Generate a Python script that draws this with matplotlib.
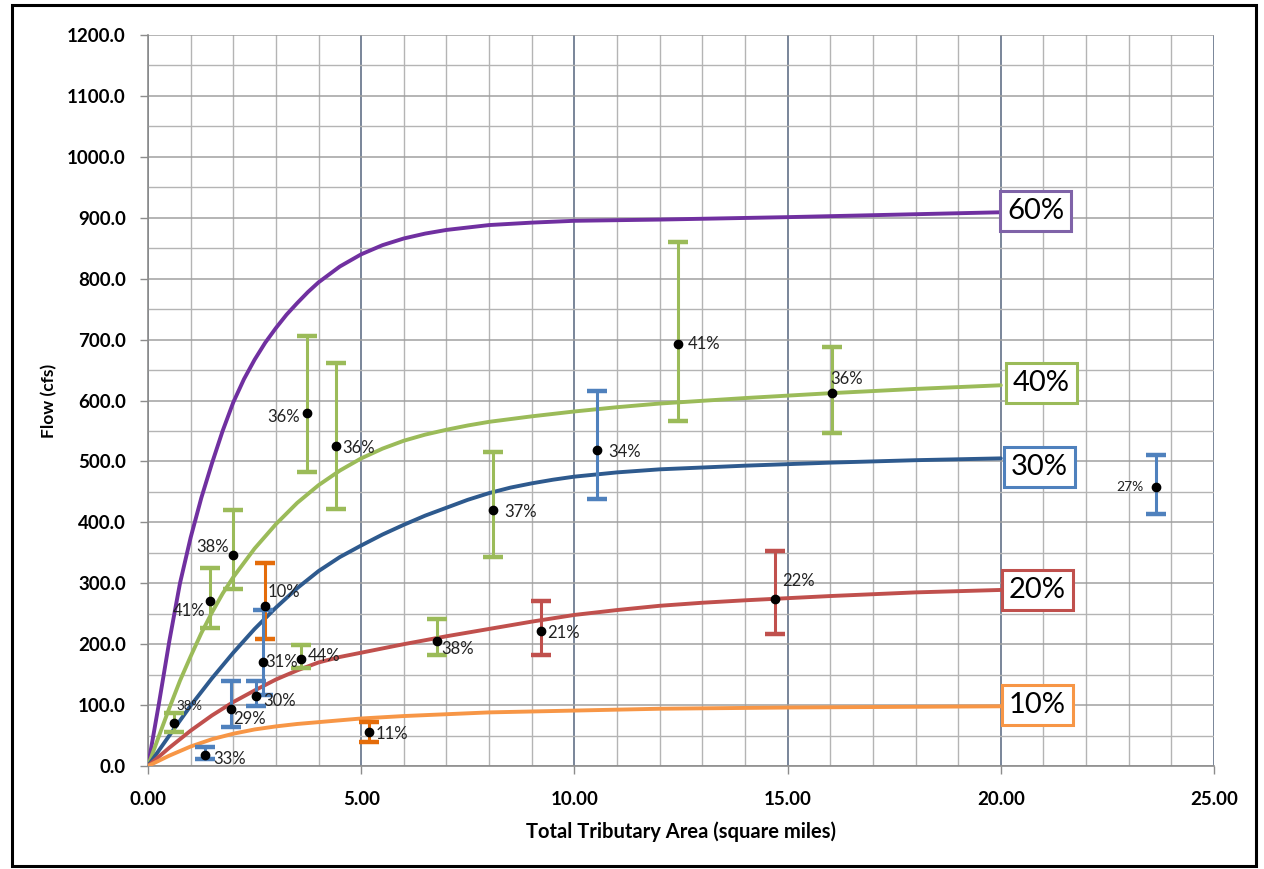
import matplotlib
matplotlib.use("Agg")
import matplotlib.pyplot as plt
from matplotlib.patches import Rectangle
from matplotlib.ticker import MultipleLocator, FormatStrFormatter

plt.rcParams['font.family'] = ['Lato', 'DejaVu Sans']

# ---- curve data ----
x60 = [0, 0.25, 0.5, 0.75, 1, 1.25, 1.5, 1.75, 2, 2.25, 2.5, 2.75, 3, 3.25, 3.5, 3.75, 4, 4.5, 5, 5.5, 6, 6.5, 7, 7.5, 8, 9, 10, 12, 15, 20]
y60 = [0, 100, 205, 300, 375, 440, 497, 550, 597, 635, 667, 695, 719, 741, 760, 778, 794, 820, 840, 855, 866, 874, 880, 884, 888, 892, 895, 897, 901, 909]

x40 = [0, 0.25, 0.5, 0.75, 1, 1.25, 1.5, 1.75, 2, 2.5, 3, 3.5, 4, 4.5, 5, 5.5, 6, 6.5, 7, 7.5, 8, 9, 10, 11, 12, 14, 16, 18, 20]
y40 = [0, 48, 95, 140, 180, 218, 252, 283, 310, 357, 397, 432, 461, 485, 505, 521, 534, 544, 552, 559, 565, 574, 582, 589, 595, 604, 612, 619, 625]

x30 = [0, 0.5, 1, 1.5, 2, 2.5, 3, 3.5, 4, 4.5, 5, 5.5, 6, 6.5, 7, 7.5, 8, 8.5, 9, 9.5, 10, 11, 12, 14, 16, 18, 20]
y30 = [0, 50, 99, 144, 186, 225, 260, 292, 320, 343, 362, 380, 396, 411, 424, 437, 448, 457, 464, 470, 475, 482, 487, 493, 498, 502, 505]

x20 = [0, 0.5, 1, 1.5, 2, 2.5, 3, 3.5, 4, 4.5, 5, 5.5, 6, 7, 8, 9, 10, 11, 12, 13, 14, 16, 18, 20]
y20 = [0, 30, 58, 83, 105, 124, 142, 157, 170, 179, 186, 193, 200, 213, 225, 237, 248, 256, 263, 268, 272, 279, 285, 289]

x10 = [0, 0.5, 1, 1.5, 2, 2.5, 3, 3.5, 4, 4.5, 5, 6, 7, 8, 10, 12, 15, 20]
y10 = [0, 17, 32, 44, 53, 60, 65, 69, 72, 75, 78, 82, 85, 88, 91, 94, 96, 98]

curve_names = ['60%', '40%', '30%', '20%', '10%']
curve_label_y = [911, 629, 491, 289, 100]

pt_x = [0.62, 1.34, 1.45, 2.00, 1.94, 2.74, 2.70, 2.53, 3.59, 5.19, 6.77, 3.72, 4.41, 8.08, 9.21, 14.70, 12.42, 16.05, 10.52, 23.63]
pt_y = [71, 18, 271, 347, 94, 263, 170, 115, 175, 56, 206, 580, 525, 421, 222, 274, 693, 613, 519, 458]
pt_lo = [56, 11, 226, 290, 64, 208, 116, 98, 161, 40, 182, 483, 422, 343, 183, 217, 566, 546, 438, 413]
pt_hi = [87, 31, 325, 420, 140, 333, 256, 140, 199, 73, 241, 706, 661, 516, 271, 353, 861, 688, 616, 511]
pt_lab = ['38%', '33%', '41%', '38%', '29%', '10%', '31%', '30%', '44%', '11%', '38%', '36%', '36%', '37%', '21%', '22%', '41%', '36%', '34%', '27%']
pt_grp = ['g', 'b', 'g', 'g', 'b', 'o', 'b', 'b', 'g', 'o', 'g', 'g', 'g', 'g', 'r', 'r', 'g', 'g', 'b', 'b']

# styles
curve_colors = ['#7030A0', '#9BBB59', '#2E5A8E', '#C0504D', '#F79646']
box_colors = ['#7F63A8', '#9BBB59', '#4F81BD', '#C0504D', '#F79646']
box_shift_px = [-2, 4, 2, 0, 0]
bar_colors = {'g': '#9BBB59', 'b': '#4F81BD', 'r': '#C0504D', 'o': '#E46C0A'}
# label offsets in pixels (dx, dy), alignment, size
lab_style = [
    (2, 17, 'left', 9.5), (8, -4, 'left', 12), (-4, -10, 'right', 12), (-4, 8, 'right', 12),
    (2, -10, 'left', 12), (3, 14, 'left', 12), (2, 0, 'left', 12), (7, -5, 'left', 12),
    (7, 3, 'left', 12), (6, -2, 'left', 12), (5, -8, 'left', 12), (-7, -4, 'right', 12),
    (6, -2, 'left', 12), (12, -2, 'left', 12), (6, -2, 'left', 12), (7, 18, 'left', 12),
    (10, 0, 'left', 12), (-2, 14, 'left', 12), (12, -2, 'left', 12), (-12, 0, 'right', 10),
]

fig = plt.figure(figsize=(12.64, 8.69), dpi=100)
ax = fig.add_axes([148/1264, 1-766/869, (1214-148)/1264, (766-35)/869])

ax.set_xlim(0, 25)
ax.set_ylim(0, 1200)
ax.xaxis.set_major_locator(MultipleLocator(5))
ax.xaxis.set_minor_locator(MultipleLocator(1))
ax.yaxis.set_major_locator(MultipleLocator(100))
ax.yaxis.set_minor_locator(MultipleLocator(50))
ax.xaxis.set_major_formatter(FormatStrFormatter('%.2f'))
ax.yaxis.set_major_formatter(FormatStrFormatter('%.1f'))

ax.grid(which='minor', axis='both', color='#B4B4B4', lw=1.0)
ax.grid(which='major', axis='y', color='#A0A0A0', lw=1.1)
ax.grid(which='major', axis='x', color='#55657D', lw=1.1)
ax.set_axisbelow(True)
for s in ['top', 'right']:
    ax.spines[s].set_visible(False)
for s in ['left', 'bottom']:
    ax.spines[s].set_color('#8C8C8C')
    ax.spines[s].set_linewidth(1.2)
ax.tick_params(which='major', length=6, color='#8C8C8C', width=1.0)
ax.tick_params(which='minor', length=0)
ax.tick_params(axis='y', pad=10, labelsize=13.5)
ax.tick_params(axis='x', pad=12, labelsize=13.5)
for lab in ax.get_xticklabels() + ax.get_yticklabels():
    lab.set_fontweight('bold')

curves = [(x60, y60), (x40, y40), (x30, y30), (x20, y20), (x10, y10)]
for (cx, cy), c in zip(curves, curve_colors):
    ax.plot(cx, cy, color=c, lw=2.8, solid_capstyle='round', solid_joinstyle='round', zorder=3)

box_pad = 0.24
box_fs = 21
for name, ly, ec, (cx, cy), sh in zip(curve_names, curve_label_y, box_colors, curves, box_shift_px):
    off_pt = box_pad * box_fs + sh * 0.72 + 0.8
    ax.annotate(name, (cx[-1], ly), xytext=(off_pt, 0), textcoords='offset points',
                ha='left', va='center', fontsize=box_fs, color='black', zorder=6,
                bbox=dict(boxstyle='square,pad=%g' % box_pad, fc='white', ec=ec, lw=2.2))

for i in range(len(pt_x)):
    col = bar_colors[pt_grp[i]]
    ax.errorbar(pt_x[i], pt_y[i], yerr=[[pt_y[i] - pt_lo[i]], [pt_hi[i] - pt_y[i]]],
                fmt='none', ecolor=col, elinewidth=2.2, capsize=7.5, capthick=3.2, zorder=4)
    ax.plot(pt_x[i], pt_y[i], 'o', color='black', ms=6, zorder=5)
    dx, dy, ha, fs = lab_style[i]
    ax.annotate(pt_lab[i], (pt_x[i], pt_y[i]), xytext=(dx * 0.72, dy * 0.72), textcoords='offset points',
                ha=ha, va='center', fontsize=fs, color='#222222', zorder=6)

ax.set_xlabel('Total Tributary Area (square miles)', fontsize=14.5, fontweight='bold', labelpad=10)
ax.set_ylabel('Flow (cfs)', fontsize=12.5, fontweight='bold', labelpad=7)

fig.patches.append(Rectangle((12/1264, 1-866/869), (1256-12)/1264, (866-5)/869,
                             transform=fig.transFigure, fill=False, ec='black', lw=2.2))

fig.savefig('out.png', dpi=100)
